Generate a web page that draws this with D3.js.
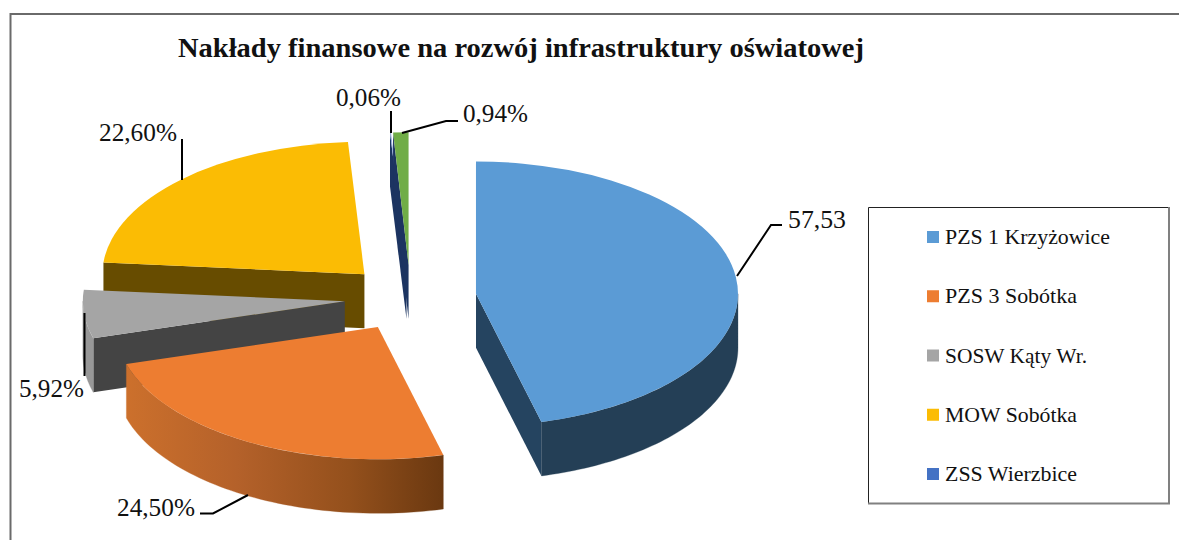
<!DOCTYPE html>
<html><head><meta charset="utf-8">
<script src="https://cdn.jsdelivr.net/npm/d3@7/dist/d3.min.js"></script>
<style>html,body{margin:0;padding:0;background:#fff}svg{display:block}text{font-family:"Liberation Serif",serif;fill:#111}</style>
</head><body><svg id="c" width="1179" height="540"></svg>
<script>
const categories = ["PZS 1 Krzyżowice","PZS 3 Sobótka","SOSW Kąty Wr.","MOW Sobótka","ZSS Wierzbice",""];
const shares = [45.98,24.50,5.92,22.60,0.06,0.94];
const valueLabels = ["57,53","24,50%","5,92%","22,60%","0,06%","0,94%"];
const topColors = ["#5b9bd5","#ed7d31","#a5a5a5","#fbbc04","#8fa8dc","#70ad47"];
const wallColors = ["#254460","#6b3a12","#444444","#674c00","#1c3461","#1c3461"];
const rimColors = ["#243f56","url(#orangeRim)","#989898","#674c00","#1f3864","#3c5e27"];
const titleText = "Nakłady finansowe na rozwój infrastruktury oświatowej";

const svg = d3.select("#c");
const W=1179,H=540;
const cx=410.5, cy=298, rx=262, k=0.505, depth=54, explode=66;
const defs=svg.append("defs");
const grad=defs.append("linearGradient").attr("id","orangeRim").attr("gradientUnits","userSpaceOnUse")
  .attr("x1",126).attr("x2",444).attr("y1",0).attr("y2",0);
[[0,"#cc702c"],[0.35,"#b4612a"],[0.7,"#94501c"],[1,"#6a3810"]].forEach(s=>grad.append("stop").attr("offset",s[0]).attr("stop-color",s[1]));

svg.append("rect").attr("width",W).attr("height",H).attr("fill","#fff");
svg.append("path").attr("d",`M10.5,${H}V14H1179`).attr("fill","none").attr("stroke","#6a6a6a").attr("stroke-width",2);

const pie=d3.pie().sort(null).value(d=>d);
const arcs=pie(shares).map((a,i)=>{
  const mid=(a.startAngle+a.endAngle)/2;
  return {...a,i,ax:cx+explode*Math.sin(mid),ay:cy-explode*k*Math.cos(mid)};
});
const arcGen=d3.arc().innerRadius(0).outerRadius(rx);
const pt=(a,ang,dz=0)=>[a.ax+rx*Math.sin(ang),a.ay-rx*k*Math.cos(ang)+dz];
const line=d3.line();
const order=[3,2,1,0,4,5];
const g=svg.append("g");
const cutWall=(a,ang)=>{
  const rim=pt(a,ang);
  const poly=[[a.ax,a.ay],rim,[rim[0],rim[1]+depth],[a.ax,a.ay+depth]];
  g.append("path").attr("d",line(poly)+"Z").attr("fill",wallColors[a.i]);
};
order.forEach(i=>{
  const a=arcs[i];
  if(Math.sin(a.startAngle)<-1e-6) cutWall(a,a.startAngle);
  if(Math.sin(a.endAngle)>1e-6) cutWall(a,a.endAngle);
  const s=Math.max(a.startAngle,Math.PI/2), e=Math.min(a.endAngle,3*Math.PI/2);
  if(e>s){
    const ts=d3.range(0,61).map(t=>s+(e-s)*t/60);
    const ptsTop=ts.map(t=>pt(a,t));
    const ptsBot=ts.slice().reverse().map(t=>pt(a,t,depth));
    g.append("path").attr("d",line(ptsTop.concat(ptsBot))+"Z").attr("fill",rimColors[i]).attr("stroke",rimColors[i]).attr("stroke-width",0.3);
  }
  g.append("path").attr("transform",`translate(${a.ax},${a.ay}) scale(1,${k})`)
    .attr("d",arcGen(a)).attr("fill",topColors[i]);
});

const leaders=[
 [[737,276],[771,225],[782,225]],
 [[200,513.5],[213,513.5],[248,495]],
 [[84.5,313],[84.5,376]],
 [[182,139],[182,180]],
 [[391,111],[391,133]],
 [[402,133],[446,121],[458,121]]
];
leaders.forEach(p=>svg.append("path").attr("d",line(p)).attr("fill","none").attr("stroke","#000").attr("stroke-width",2));

const labelPos=[[788,228,58],[117,516,78],[19,397,65],[99,141,78],[336,106,65],[463,122,65]];
valueLabels.forEach((t,i)=>svg.append("text").attr("x",labelPos[i][0]).attr("y",labelPos[i][1])
  .attr("font-size",26).attr("textLength",labelPos[i][2]).attr("lengthAdjust","spacingAndGlyphs").text(t));

svg.append("text").attr("x",178).attr("y",57).attr("font-size",27.5).attr("font-weight","700")
  .attr("textLength",686).attr("lengthAdjust","spacingAndGlyphs").text(titleText);

svg.append("path").attr("d","M868.5,503V207.5H1168").attr("fill","none").attr("stroke","#222").attr("stroke-width",1);
svg.append("path").attr("d","M1169,207V503.5H868").attr("fill","none").attr("stroke","#808080").attr("stroke-width",2);
const legendY=d3.scalePoint().domain(categories.slice(0,5)).range([237,474]);
const legendW=[165,132,142,132,132];
categories.slice(0,5).forEach((c,i)=>{
  const y=legendY(c);
  svg.append("rect").attr("x",927).attr("y",y-6).attr("width",12).attr("height",12).attr("fill",i===4?"#4472c4":topColors[i]);
  svg.append("text").attr("x",945).attr("y",y+7).attr("font-size",22).attr("textLength",legendW[i]).attr("lengthAdjust","spacingAndGlyphs").text(c);
});
</script></body></html>
